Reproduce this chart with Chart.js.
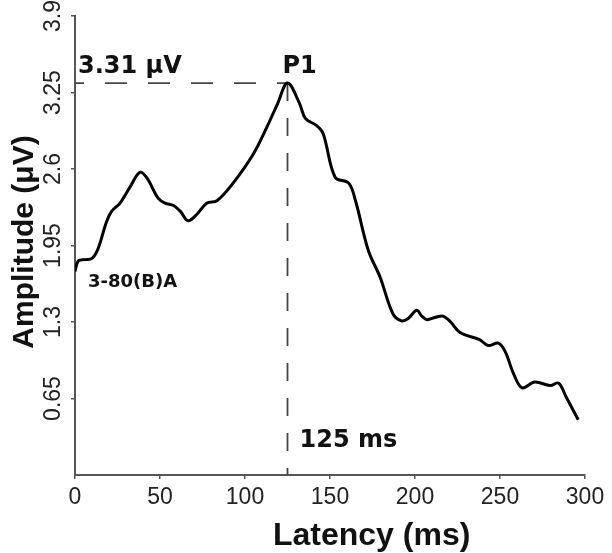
<!DOCTYPE html>
<html>
<head>
<meta charset="utf-8">
<script src="https://cdn.jsdelivr.net/npm/chart.js@4.4.1/dist/chart.umd.min.js"></script>
<style>
  html, body { margin: 0; padding: 0; background: #fff; }
  #wrap { width: 612px; height: 553px; }
</style>
</head>
<body>
<div id="wrap"><canvas id="erpChart" width="612" height="553"></canvas></div>
<script>
// Curve 3-80(B)A
const latencyMs = [
  0, 2, 6, 10, 13.5, 18.5, 21.5, 26.5, 32.5, 38, 42, 49, 53, 58, 62, 66.5,
  72, 77.5, 83.5, 93, 105, 113, 119, 125, 132, 135.5, 142, 146, 153, 161,
  165, 172.5, 179.5, 187, 192, 196, 201, 204, 207, 212, 216.5, 221, 226.5,
  238, 243, 249, 253, 258, 263, 270.5, 279.5, 284.5, 289, 296
];
const amplitudeUv = [
  1.73, 1.82, 1.83, 1.84, 1.92, 2.15, 2.24, 2.31, 2.45, 2.57, 2.53, 2.35, 2.31, 2.29, 2.24, 2.16,
  2.22, 2.31, 2.33, 2.48, 2.73, 2.96, 3.15, 3.33, 3.16, 3.03, 2.97, 2.90, 2.53, 2.48,
  2.33, 1.91, 1.68, 1.37, 1.31, 1.33, 1.40, 1.35, 1.32, 1.34, 1.35, 1.30, 1.21,
  1.15, 1.10, 1.12, 1.05, 0.86, 0.74, 0.79, 0.76, 0.78, 0.66, 0.47
];
const yTickValues = [0.65, 1.3, 1.95, 2.6, 3.25, 3.9];
const xTickStep = 50;

const peakText = '3.31 μV';
const peakName = 'P1';
const peakLatencyText = '125 ms';
const curveName = '3-80(B)A';
const xTitle = 'Latency (ms)';
const yTitle = 'Amplitude (μV)';

document.addEventListener('DOMContentLoaded', () => {

  const peakIndex = amplitudeUv.indexOf(Math.max(...amplitudeUv));

  // dashed guides to the peak + labels and axis titles
  const erpAnnotations = {
    id: 'erpAnnotations',
    beforeDatasetsDraw(chart) {
      const { ctx, scales: { x, y } } = chart;
      const px = x.getPixelForValue(latencyMs[peakIndex]);
      const py = y.getPixelForValue(amplitudeUv[peakIndex]);
      ctx.save();
      ctx.strokeStyle = '#444';
      ctx.lineWidth = 1.8;
      ctx.setLineDash([22, 21]);
      ctx.lineDashOffset = 13;
      ctx.beginPath();
      ctx.moveTo(x.left, py);
      ctx.lineTo(px, py);
      ctx.stroke();
      ctx.setLineDash([18, 17]);
      ctx.lineDashOffset = 0;
      ctx.beginPath();
      ctx.moveTo(px, py);
      ctx.lineTo(px, y.bottom);
      ctx.stroke();
      ctx.restore();
    },
    afterDraw(chart) {
      const { ctx, scales: { x, y } } = chart;
      const px = x.getPixelForValue(latencyMs[peakIndex]);
      const py = y.getPixelForValue(amplitudeUv[peakIndex]);
      ctx.save();
      ctx.fillStyle = '#111';
      ctx.textAlign = 'left';
      ctx.textBaseline = 'alphabetic';
      ctx.font = 'bold 24px "DejaVu Sans"';
      ctx.fillText(peakText, x.left + 3, py - 10);
      ctx.fillText(peakName, px - 5, py - 10);
      ctx.fillText(peakLatencyText, px + 12, y.getPixelForValue(0.24));
      ctx.font = 'bold 18px "DejaVu Sans"';
      ctx.fillText(curveName, x.getPixelForValue(7.6), y.getPixelForValue(1.6));

      // axis titles
      ctx.textAlign = 'center';
      ctx.font = 'bold 32px "Liberation Sans"';
      ctx.fillText(xTitle, x.getPixelForValue(174.5), chart.height - 8);
      ctx.translate(33, y.getPixelForValue(1.98));
      ctx.rotate(-Math.PI / 2);
      ctx.font = 'bold 30px "Liberation Sans"';
      ctx.fillText(yTitle, 0, 0);
      ctx.restore();
    }
  };

  const tickFont = { family: "'Liberation Sans', Arial", size: 23 };

  new Chart(document.getElementById('erpChart'), {
    type: 'line',
    data: {
      datasets: [{
        data: latencyMs.map((ms, i) => ({ x: ms, y: amplitudeUv[i] })),
        borderColor: '#000',
        borderWidth: 3,
        pointRadius: 0,
        tension: 0.35,
        fill: false,
      }],
    },
    options: {
      responsive: false,
      animation: false,
      layout: { padding: { left: 0, right: 27, top: 16, bottom: 0 } },
      plugins: {
        legend: { display: false },
        tooltip: { enabled: false },
      },
      scales: {
        x: {
          type: 'linear',
          min: 0,
          max: 300,
          ticks: { stepSize: xTickStep, padding: 5, maxRotation: 0, color: '#222', font: tickFont },
          grid: { drawOnChartArea: false, tickLength: 4, color: '#555', lineWidth: 1.5 },
          border: { color: '#555', width: 2 },
          afterFit: (s) => { s.height = 78; s.paddingLeft = 0; s.paddingRight = 0; },
        },
        y: {
          min: 0,
          max: 3.9,
          afterBuildTicks: (s) => { s.ticks = yTickValues.map(v => ({ value: v })); },
          ticks: {
            minRotation: 90,
            maxRotation: 90,
            crossAlign: 'center',
            padding: -5,
            color: '#222',
            font: tickFont,
            callback: (v) => String(v),
          },
          grid: { drawOnChartArea: false, tickLength: 4, color: '#555', lineWidth: 1.5 },
          border: { color: '#555', width: 2 },
          afterFit: (s) => { s.width = 75; s.paddingTop = 0; s.paddingBottom = 0; },
        },
      },
    },
    plugins: [erpAnnotations],
  });
});
</script>
</body>
</html>
